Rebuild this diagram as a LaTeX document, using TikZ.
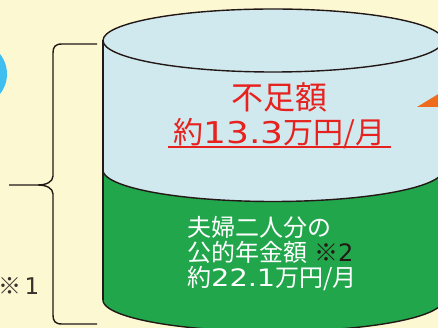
\documentclass[tikz,border=0pt]{standalone}
\usepackage{fontspec}
\setmainfont{Noto Sans CJK JP}
\newfontfamily\dv{DejaVu Sans}
\definecolor{bgc}{RGB}{252,248,210}
\definecolor{lblue}{RGB}{208,233,239}
\definecolor{cgreen}{RGB}{33,166,75}
\definecolor{cred}{RGB}{230,33,30}
\definecolor{sky}{RGB}{63,190,240}
\definecolor{corange}{RGB}{238,107,30}
\definecolor{ink}{RGB}{35,24,21}
\newcommand{\wdig}[1]{\scalebox{1.2}[1]{\dv #1}}
\tikzset{
  outl/.style={draw=ink, line width=1.4pt},
  txt/.style={inner sep=0pt, anchor=base west},
}
\begin{document}
\begin{tikzpicture}[x=1pt,y=-1pt]
\useasboundingbox (0,0) rectangle (438,328);
\fill[bgc] (0,0) rectangle (438,328);
% blue circle at left
\fill[sky] (-25,74) circle (32pt);
% cylinder fills
\fill[cgreen] (103,170) -- plot[domain=180:0,samples=120] ({273+170*cos(\x)},{300+31.5*sin(\x)}) -- (443,170) -- cycle;
\fill[lblue] (103,40.5) -- plot[domain=180:0,samples=120] ({273+170*cos(\x)},{170+31.5*sin(\x)}) -- (443,40.5) -- cycle;
\fill[lblue] (273,40.5) ellipse [x radius=170pt, y radius=31.5pt];
% cylinder outlines
\draw[outl] (103,40.5) -- (103,300);
\draw[outl] plot[domain=180:0,samples=120] ({273+170*cos(\x)},{170+31.5*sin(\x)});
\draw[outl] plot[domain=180:0,samples=120] ({273+170*cos(\x)},{300+31.5*sin(\x)});
\draw[outl] (273,40.5) ellipse [x radius=170pt, y radius=31.5pt];
% brace
\coordinate (bt) at (97,44);
\coordinate (bm) at (9,185);
\coordinate (bb) at (97,324);
\draw[outl, line join=round] (bt) -- (62,44) .. controls (55,44) and (53,47) .. (53,53) -- (53,176) .. controls (53,182) and (46,185) .. (38,185) -- (bm);
\draw[outl, line join=round] (38,185) .. controls (46,185) and (53,188) .. (53,194) -- (53,315) .. controls (53,321) and (55,324) .. (62,324) -- (bb);
% orange arrow tip
\fill[corange] (417,107) -- (440,93) -- (440,107) -- cycle;
% texts
\node[txt, text=cred, font=\fontsize{32}{32}\selectfont, anchor=base] (t1) at (279.5,110) {不足額};
\node[txt, text=cred, font=\fontsize{30}{30}\selectfont, anchor=base] (t2) at (279.5,143.5) {約\wdig{13.3}万円/月};
\coordinate (ul1) at (168,147.5);
\coordinate (ul2) at (391,147.5);
\draw[cred, line width=2pt] (ul1) -- (ul2);
\node[txt, text=white, font=\fontsize{24}{24}\selectfont] (w1) at (187,236.5) {夫婦二人分の};
\node[txt, text=white, font=\fontsize{24}{24}\selectfont] (w2) at (187,261.5) {公的年金額\hspace{7pt}\textcolor{ink}{※{\dv 2}}};
\node[txt, text=white, font=\fontsize{24}{24}\selectfont] (w3) at (187,286.5) {約\wdig{22.1}万円/月};
\node[txt, text=ink!90, font=\fontsize{23}{23}\selectfont] (n1) at (-1.5,294) {※\hspace{3pt}{\dv 1}};
\end{tikzpicture}
\end{document}
